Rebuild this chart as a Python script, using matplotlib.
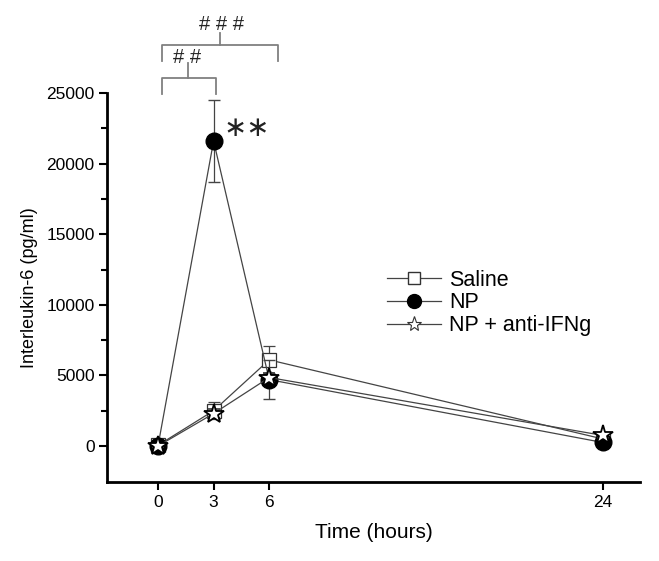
import numpy as np
import matplotlib
matplotlib.use('Agg')
import matplotlib.pyplot as plt
from matplotlib.lines import Line2D

plt.rcParams['font.family'] = ['Liberation Sans', 'DejaVu Sans']

# time points (hours)
hours = [0, 3, 6, 24]

# IL-6 means and errors (pg/ml)
saline = [50, 2500, 6100, 500]
saline_err = [100, 600, 1000, 150]
np_mean = [0, 21600, 4700, 250]
np_err = [100, 2900, 1400, 150]
anti = [0, 2300, 4850, 750]
anti_err = [100, 300, 300, 150]
labels = ['Saline', 'NP', 'NP + anti-IFNg']

fig = plt.figure(figsize=(6.59, 5.61), dpi=100)
ax = fig.add_axes([0.1624, 0.1408, 0.8086, 0.6934])

line_col = '#444444'
ax.errorbar(hours, saline, yerr=saline_err, color=line_col, lw=0.9, capsize=4,
            marker='s', ms=10, mfc='white', mec='#333333', mew=0.9, zorder=3)
ax.errorbar(hours, np_mean, yerr=np_err, color=line_col, lw=0.9, capsize=4,
            marker='o', ms=12, mfc='black', mec='black', zorder=4)
ax.errorbar(hours, anti, yerr=anti_err, color=line_col, lw=0.9, capsize=4,
            marker='*', ms=15, mfc='white', mec='black', mew=1.3, zorder=5)

ax.set_xlim(-2.75, 26)
ax.set_ylim(-2550, 25000)
ax.set_xticks(hours)
ax.set_yticks(np.arange(0, 25001, 5000))
ax.set_yticks(np.arange(2500, 25000, 5000), minor=True)

for s in ['top', 'right']:
    ax.spines[s].set_visible(False)
for s in ['left', 'bottom']:
    ax.spines[s].set_linewidth(2)
ax.tick_params(which='major', direction='out', length=6, width=1.5, labelsize=12.5, pad=3)
ax.tick_params(which='minor', direction='out', length=4, width=1.5)

ax.set_xlabel('Time (hours)', fontsize=15, labelpad=10)
ax.set_ylabel('Interleukin-6 (pg/ml)', fontsize=13, labelpad=6)

# legend with plain line+marker handles (no error bars)
handles = [
    Line2D([], [], color=line_col, lw=0.9, marker='s', ms=8, mfc='white', mec='#333333'),
    Line2D([], [], color=line_col, lw=0.9, marker='o', ms=10, mfc='black', mec='black'),
    Line2D([], [], color=line_col, lw=0.9, marker='*', ms=11, mfc='white', mec='#333333', mew=0.8),
]
fig.legend(handles, labels, loc='center left', bbox_to_anchor=(0.587, 0.46), frameon=False,
           fontsize=15.5, handlelength=2.5, handletextpad=0.38, labelspacing=0.08,
           borderpad=0, borderaxespad=0)

# significance brackets
br = '#808080'
ax.plot([0.2, 0.2, 3.15, 3.15], [24930, 26060, 26060, 24930], color=br, lw=1.3, clip_on=False)
ax.plot([1.64, 1.64], [26060, 27120], color=br, lw=1.3, clip_on=False)
ax.text(1.55, 27500, '# #', ha='center', va='center', fontsize=14.5, color='#222222', clip_on=False)
ax.plot([0.2, 0.2, 6.5, 6.5], [27270, 28400, 28400, 27270], color=br, lw=1.3, clip_on=False)
ax.plot([3.37, 3.37], [28400, 29250], color=br, lw=1.3, clip_on=False)
ax.text(3.45, 29850, '# # #', ha='center', va='center', fontsize=14.5, color='#222222', clip_on=False)
ax.text(4.77, 22500, '\u2217\u2217', ha='center', va='center', fontsize=20,
        family=['DejaVu Sans'], color='#222222', clip_on=False)

plt.savefig('out.png', dpi=100)
